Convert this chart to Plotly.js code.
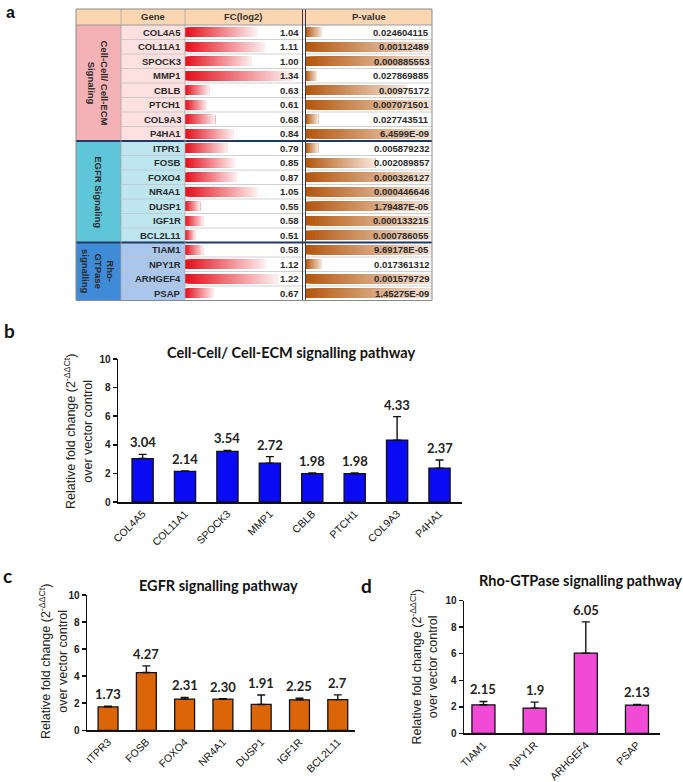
<!DOCTYPE html>
<html><head><meta charset="utf-8">
<script src="https://cdn.plot.ly/plotly-3.0.1.min.js"></script>
<style>html,body{margin:0;padding:0;background:#fff}#chart{width:683px;height:782px}</style>
</head><body><div id="chart"></div>
<script>
// ---------- DATA ----------
// Table (panel a)
const tableGenes = ['COL4A5','COL11A1','SPOCK3','MMP1','CBLB','PTCH1','COL9A3','P4HA1',
  'ITPR1','FOSB','FOXO4','NR4A1','DUSP1','IGF1R','BCL2L11',
  'TIAM1','NPY1R','ARHGEF4','PSAP'];
const tableFC = [1.04,1.11,1.00,1.34,0.63,0.61,0.68,0.84,0.79,0.85,0.87,1.05,0.55,0.58,0.51,0.58,1.12,1.22,0.67];
const tablePText = ['0.024604115','0.00112489','0.000885553','0.027869885','0.00975172','0.007071501','0.027743511','6.4599E-09',
  '0.005879232','0.002089857','0.000326127','0.000446646','1.79487E-05','0.000133215','0.000786055',
  '9.69178E-05','0.017361312','0.001579729','1.45275E-09'];
const tablePBar = [0.13,1,1,0.09,0.8,1,0.1,1,0.1,0.55,1,1,1,1,1,1,0.13,1,1];
const groupNames = ['Cell-Cell/ Cell-ECM<br>Signaling','EGFR Signaling','Rho-<br>GTPase<br>signalling'];
const groupSizes = [8,7,4];
const tableHeaders = ['Gene','FC(log2)','P-value'];

// Panel b
const genesB = ['COL4A5','COL11A1','SPOCK3','MMP1','CBLB','PTCH1','COL9A3','P4HA1'];
const valsB = [3.04,2.14,3.54,2.72,1.98,1.98,4.33,2.37];
const errB = [0.29,0.03,0.07,0.45,0.06,0.05,1.64,0.57];
const labelsB = ['3.04','2.14','3.54','2.72','1.98','1.98','4.33','2.37'];
// Panel c
const genesC = ['ITPR3','FOSB','FOXO4','NR4A1','DUSP1','IGF1R','BCL2L11'];
const valsC = [1.73,4.27,2.31,2.30,1.91,2.25,2.27];
const errC = [0.06,0.49,0.12,0.03,0.70,0.12,0.35];
const labelsC = ['1.73','4.27','2.31','2.30','1.91','2.25','2.7'];
// Panel d
const genesD = ['TIAM1','NPY1R','ARHGEF4','PSAP'];
const valsD = [2.15,1.90,6.05,2.13];
const errD = [0.25,0.45,2.35,0.05];
const labelsD = ['2.15','1.9','6.05','2.13'];

const titleB = 'Cell-Cell/ Cell-ECM signalling pathway';
const titleC = 'EGFR signalling pathway';
const titleD = 'Rho-GTPase signalling pathway';
const yTitle = 'Relative fold change (2<sup>-ΔΔCt</sup>)<br>over vector control';

// ---------- HELPERS ----------
const W = 683, H = 782;
const px = x => x / W;
const py = y => 1 - y / H;
function mix(c1, c2, t) {
  const a = c1.match(/\w\w/g).map(h => parseInt(h, 16));
  const b = c2.match(/\w\w/g).map(h => parseInt(h, 16));
  return 'rgb(' + a.map((v, i) => Math.round(v + (b[i] - v) * t)).join(',') + ')';
}
const ARIAL = 'Liberation Sans, Arial, sans-serif';
const LATO = 'Lato, Carlito, sans-serif';

const traces = [];
const shapes = [];
const annotations = [];

// ---------- TABLE (panel a) ----------
const T = {left: 76, gL: 121, fL: 185, fR: 302.5, pL: 305.5, right: 432, top: 9, hB: 25, bot: 300.5};
const rowsIdx = tableGenes.map((g, i) => i);
const NSEG = 40;
const fcBase = 0.42;
for (let k = 0; k < NSEG; k++) {
  // each segment runs from its start to the bar end; later segments overlay earlier ones (no seams)
  traces.push({
    type: 'bar', orientation: 'h', xaxis: 'x5', yaxis: 'y5',
    y: rowsIdx, x: tableFC.map(v => (v - fcBase) * (NSEG - k) / NSEG),
    base: tableFC.map(v => fcBase + (v - fcBase) * k / NSEG),
    width: 0.66, marker: {color: mix('e4101c', 'fdeeee', k / (NSEG - 1)), line: {width: 0}},
    hoverinfo: 'skip'
  });
  traces.push({
    type: 'bar', orientation: 'h', xaxis: 'x6', yaxis: 'y5',
    y: rowsIdx, x: tablePBar.map(v => v * (NSEG - k) / NSEG),
    base: tablePBar.map(v => v * k / NSEG),
    width: 0.66, marker: {color: mix('b4570f', 'f6e6da', k / (NSEG - 1)), line: {width: 0}},
    hoverinfo: 'skip'
  });
}
// header background
shapes.push({type: 'rect', xref: 'paper', yref: 'paper', x0: px(T.left), x1: px(T.right), y0: py(T.hB), y1: py(T.top),
  fillcolor: '#fcd5b1', line: {width: 0}, layer: 'below'});
// group backgrounds
const grpCol = ['#f5b2b6', '#5fc6da', '#3f8bd8'];
const geneCol = ['#fde0e0', '#bde6f1', '#a9c7ec'];
let start = 0;
groupSizes.forEach((n, gi) => {
  const y0 = start - 0.5, y1 = start + n - 0.5;
  shapes.push({type: 'rect', xref: 'paper', yref: 'y5', x0: px(T.left), x1: px(T.gL), y0: y0, y1: y1,
    fillcolor: grpCol[gi], line: {width: 0}, layer: 'below'});
  shapes.push({type: 'rect', xref: 'paper', yref: 'y5', x0: px(T.gL), x1: px(T.fL), y0: y0, y1: y1,
    fillcolor: geneCol[gi], line: {width: 0}, layer: 'below'});
  annotations.push({xref: 'paper', yref: 'y5', x: px((T.left + T.gL) / 2), y: start + (n - 1) / 2,
    text: '<b>' + groupNames[gi] + '</b>', textangle: 90, showarrow: false,
    font: {family: ARIAL, size: 9.5, color: '#2a2a2a'}, xanchor: 'center', yanchor: 'middle'});
  start += n;
});
// row separators
tableGenes.forEach((g, i) => {
  if (i === 0) return;
  const isGroup = (i === 8 || i === 15);
  shapes.push({type: 'line', xref: 'paper', yref: 'y5',
    x0: px(isGroup ? T.left : T.gL), x1: px(T.right), y0: i - 0.5, y1: i - 0.5,
    line: {color: isGroup ? '#1f3864' : '#c4c4c4', width: isGroup ? 2 : 0.8}, layer: 'above'});
});
// header lines & verticals
shapes.push({type: 'line', xref: 'paper', yref: 'paper', x0: px(T.left), x1: px(T.right), y0: py(T.hB), y1: py(T.hB),
  line: {color: '#9a9a9a', width: 1}});
[T.gL, T.fL].forEach(x => shapes.push({type: 'line', xref: 'paper', yref: 'paper', x0: px(x), x1: px(x), y0: py(T.bot), y1: py(T.top),
  line: {color: '#a8a8a8', width: 0.8}}));
[T.fR, T.pL].forEach(x => shapes.push({type: 'line', xref: 'paper', yref: 'paper', x0: px(x), x1: px(x), y0: py(T.bot), y1: py(T.top),
  line: {color: '#3a3a4a', width: 1}}));
shapes.push({type: 'rect', xref: 'paper', yref: 'paper', x0: px(T.left), x1: px(T.right), y0: py(T.bot), y1: py(T.top),
  line: {color: '#8a8a8a', width: 1}, fillcolor: 'rgba(0,0,0,0)'});
// header text
[[T.gL, T.fL], [T.fL, T.fR], [T.pL, T.right]].forEach((c, i) => annotations.push({
  xref: 'paper', yref: 'paper', x: px((c[0] + c[1]) / 2), y: py((T.top + T.hB) / 2), text: '<b>' + tableHeaders[i] + '</b>',
  showarrow: false, font: {family: ARIAL, size: 9.5, color: '#333'}, xanchor: 'center', yanchor: 'middle'}));
// cell text
tableGenes.forEach((g, i) => {
  annotations.push({xref: 'paper', yref: 'y5', x: px(T.fL - 2), y: i, text: '<b>' + g + '</b>', showarrow: false,
    xanchor: 'right', yanchor: 'middle', font: {family: ARIAL, size: 9.5, color: '#2a2a2a'}});
  annotations.push({xref: 'paper', yref: 'y5', x: px(T.fR - 2), y: i, text: '<b>' + tableFC[i].toFixed(2) + '</b>', showarrow: false,
    xanchor: 'right', yanchor: 'middle', font: {family: ARIAL, size: 9.5, color: '#2a2a2a'}});
  annotations.push({xref: 'paper', yref: 'y5', x: px(T.right - 1.5), y: i, text: '<b>' + tablePText[i] + '</b>', showarrow: false,
    xanchor: 'right', yanchor: 'middle', font: {family: ARIAL, size: 9.5, color: '#2a2a2a'}});
});

// ---------- BAR CHARTS ----------
function barTrace(xa, ya, cats, vals, errs, color, width) {
  return {type: 'bar', xaxis: xa, yaxis: ya, x: cats, y: vals, width: width,
    marker: {color: color, line: {color: '#111', width: 1.3}},
    error_y: {type: 'data', array: errs, arrayminus: errs.map(() => 0), symmetric: false,
      color: '#111', thickness: 1.4, width: 4},
    hoverinfo: 'x+y'};
}
traces.push(barTrace('x', 'y', genesB, valsB, errB, '#0a0af5', 0.5));
traces.push(barTrace('x2', 'y2', genesC, valsC, errC, '#dc6508', 0.52));
traces.push(barTrace('x3', 'y3', genesD, valsD, errD, '#f04ad6', 0.45));

function valueLabels(xa, ya, cats, vals, errs, labels) {
  cats.forEach((c, i) => annotations.push({xref: xa, yref: ya, x: c, y: vals[i] + errs[i], text: labels[i],
    showarrow: false, yanchor: 'bottom', yshift: 2, font: {family: LATO, size: 13, color: '#222', weight: 700}}));
}
valueLabels('x', 'y', genesB, valsB, errB, labelsB);
valueLabels('x2', 'y2', genesC, valsC, errC, labelsC);
valueLabels('x3', 'y3', genesD, valsD, errD, labelsD);

function xAx(d0, d1, range, anchor) {
  return {domain: [px(d0), px(d1)], range: range, anchor: anchor, showline: true, linecolor: '#111', linewidth: 1.5,
    ticks: '', tickangle: -45, tickfont: {family: ARIAL, size: 10.5, color: '#111'}, showgrid: false, zeroline: false,
    fixedrange: true};
}
function yAx(top, bottom, anchor) {
  return {domain: [py(bottom), py(top)], range: [0, 10], anchor: anchor, showline: true, linecolor: '#111', linewidth: 1.5,
    ticks: 'outside', ticklen: 4, tickwidth: 1.5, tickcolor: '#111', tickvals: [0, 2, 4, 6, 8, 10],
    tickfont: {family: ARIAL, size: 10, color: '#222', weight: 700}, showgrid: false, zeroline: false, fixedrange: true};
}

// titles & y titles
[[titleB, 291, 353], [titleC, 218, 585], [titleD, 580, 580]].forEach(t => annotations.push({
  xref: 'paper', yref: 'paper', x: px(t[1]), y: py(t[2]), text: t[0], showarrow: false, xanchor: 'center', yanchor: 'middle',
  font: {family: LATO, size: 14.5, color: '#111', weight: 700}}));
[[79, 432], [53, 662], [423.5, 667]].forEach(p => annotations.push({
  xref: 'paper', yref: 'paper', x: px(p[0]), y: py(p[1]), text: yTitle, textangle: -90, showarrow: false,
  xanchor: 'center', yanchor: 'middle', font: {family: ARIAL, size: 12.5, color: '#222'}}));
// panel letters
[['a', 10, 12, ARIAL, 16], ['b', 9, 330, LATO, 19], ['c', 7, 575, LATO, 19], ['d', 366, 585, LATO, 19]].forEach(l =>
  annotations.push({xref: 'paper', yref: 'paper', x: px(l[1]), y: py(l[2]), text: '<b>' + l[0] + '</b>', showarrow: false,
    xanchor: 'center', yanchor: 'middle', font: {family: l[3], size: l[4], color: '#111'}}));

const layout = {
  width: W, height: H, margin: {l: 0, r: 0, t: 0, b: 0}, showlegend: false,
  paper_bgcolor: '#fff', plot_bgcolor: 'rgba(0,0,0,0)', barmode: 'overlay',
  xaxis: xAx(118, 462, [-0.58, 7.53], 'y'),
  yaxis: yAx(359, 502, 'x'),
  xaxis2: xAx(87, 355, [-0.55, 6.45], 'y2'),
  yaxis2: yAx(595, 730.3, 'x2'),
  xaxis3: xAx(464, 660, [-0.38, 3.45], 'y3'),
  yaxis3: yAx(600.7, 733.3, 'x3'),
  xaxis5: {domain: [px(T.fL), px(T.fR)], range: [fcBase, fcBase + (T.fR - T.fL) / 115.5], anchor: 'y5', visible: false, fixedrange: true},
  xaxis6: {domain: [px(T.pL), px(T.right)], range: [0, 1], anchor: 'y5', visible: false, fixedrange: true},
  yaxis5: {domain: [py(T.bot), py(T.hB)], range: [tableGenes.length - 0.5, -0.5], anchor: 'x5', visible: false, fixedrange: true},
  shapes: shapes, annotations: annotations
};
Plotly.newPlot('chart', traces, layout, {displayModeBar: false, staticPlot: true});
</script></body></html>
